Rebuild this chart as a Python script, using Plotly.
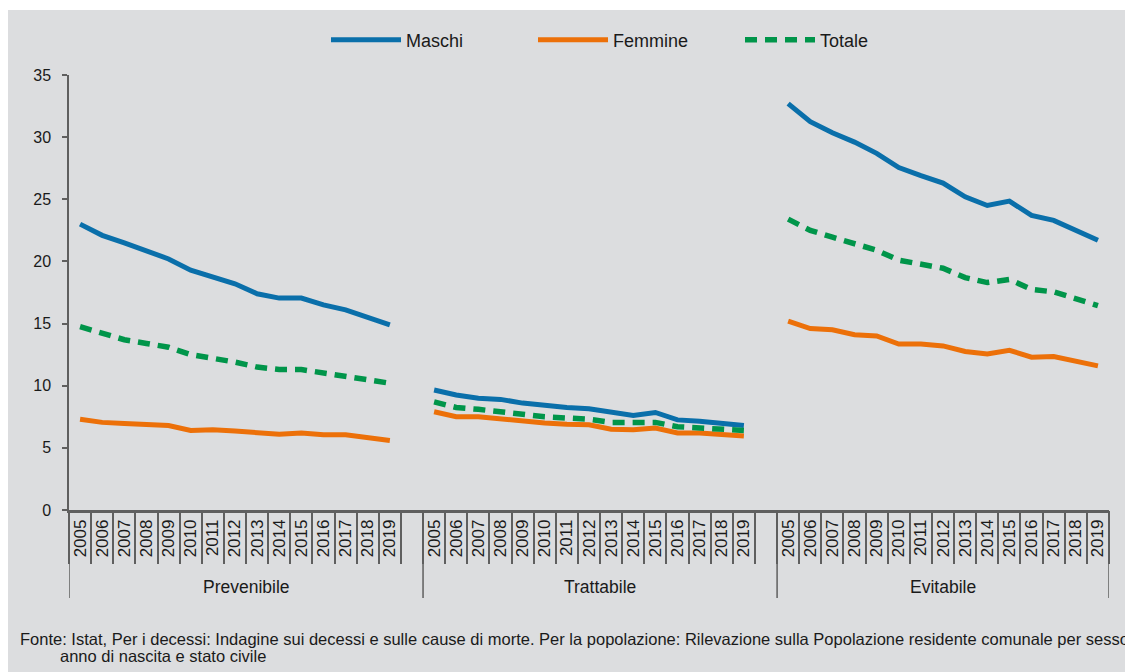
import plotly.graph_objects as go

groups = ["Prevenibile", "Trattabile", "Evitabile"]
years = [str(y) for y in range(2005, 2020)]

maschi_prevenibile = [23.0, 22.1, 21.5, 20.9, 20.2, 19.3, 18.8, 18.2, 17.4, 17.05, 17.05, 16.5, 16.1, 15.5, 14.9]
femmine_prevenibile = [7.3, 7.05, 6.95, 6.85, 6.8, 6.4, 6.45, 6.35, 6.25, 6.1, 6.2, 6.05, 6.05, 5.8, 5.6]
totale_prevenibile = [14.75, 14.2, 13.7, 13.4, 13.1, 12.5, 12.25, 11.9, 11.5, 11.3, 11.3, 11.0, 10.8, 10.5, 10.2]

maschi_trattabile = [9.65, 9.25, 9.0, 8.9, 8.6, 8.4, 8.25, 8.15, 7.9, 7.6, 7.85, 7.25, 7.15, 7.0, 6.8]
femmine_trattabile = [7.9, 7.5, 7.5, 7.3, 7.2, 7.0, 6.9, 6.85, 6.5, 6.45, 6.6, 6.2, 6.2, 6.1, 5.95]
totale_trattabile = [8.7, 8.25, 8.1, 7.95, 7.7, 7.5, 7.45, 7.3, 7.05, 7.0, 7.05, 6.7, 6.6, 6.55, 6.4]

maschi_evitabile = [32.7, 31.25, 30.35, 29.6, 28.7, 27.55, 26.9, 26.3, 25.2, 24.5, 24.85, 23.7, 23.3, 22.5, 21.7]
femmine_evitabile = [15.2, 14.6, 14.5, 14.1, 14.0, 13.35, 13.35, 13.2, 12.75, 12.55, 12.85, 12.3, 12.35, 11.95, 11.6]
totale_evitabile = [23.4, 22.5, 21.95, 21.4, 20.9, 20.1, 19.75, 19.45, 18.7, 18.3, 18.55, 17.75, 17.55, 17.0, 16.45]

series_names = ["Maschi", "Femmine", "Totale"]
series_colors = ["#0A6FAA", "#EC7009", "#00954A"]

source_line1 = ("Fonte: Istat, Per i decessi: Indagine sui decessi e sulle cause di morte. "
                "Per la popolazione: Rilevazione sulla Popolazione residente comunale per sesso,")
source_line2 = "anno di nascita e stato civile"

data = {
    "Maschi": [maschi_prevenibile, maschi_trattabile, maschi_evitabile],
    "Femmine": [femmine_prevenibile, femmine_trattabile, femmine_evitabile],
    "Totale": [totale_prevenibile, totale_trattabile, totale_evitabile],
}

# Build category axis: 15 years per group + one blank column after the first two groups
cats, labels, group_bounds = [], [], []
for gi, g in enumerate(groups):
    start = len(cats)
    for y in years:
        cats.append(f"{g} {y}")
        labels.append(y)
    if gi < len(groups) - 1:
        cats.append(f"{g} gap")
        labels.append("")
    group_bounds.append((start - 0.5, len(cats) - 0.5))

def full_series(name):
    out = []
    for gi, vals in enumerate(data[name]):
        out.extend(vals)
        if gi < len(groups) - 1:
            out.append(None)
    return out

REG = "Liberation Sans, Arial, sans-serif"
AXC = "#5f5f5f"
TXT = "#1a1a1a"

fig = go.Figure()
for name, col in zip(series_names, series_colors):
    line = dict(color=col, width=5)
    if name == "Totale":
        line = dict(color=col, width=5.5, dash="12px,8px")
    fig.add_trace(go.Scatter(x=cats, y=full_series(name), mode="lines", name=name,
                             line=line, connectgaps=False, hoverinfo="skip"))

# invisible trace carrying the boundary-tick axis
fig.add_trace(go.Scatter(x=cats, y=[None] * len(cats), xaxis="x2", mode="lines",
                         showlegend=False, hoverinfo="skip"))

OFF = 8  # page body margin
W, H = 1125, 664
ml, mt = 69 - OFF, 75 - OFF
pw, ph = 1040, 435
mr = W - ml - pw
mb = H - mt - ph

def px_x(p):
    return (p - OFF - ml) / pw

def px_y(p):
    return (H - mb - (p - OFF)) / ph

shapes = [
    dict(type="rect", xref="paper", yref="paper", x0=px_x(8), x1=px_x(1140),
         y0=px_y(680), y1=px_y(10), fillcolor="#DCDDDF", line=dict(width=0), layer="below"),
]
div_bottom = px_y(598)
xs = sorted(set([b for pair in group_bounds for b in pair]))
for xb in xs:
    shapes.append(dict(type="line", xref="x", yref="paper", x0=xb, x1=xb, y0=0, y1=div_bottom,
                       line=dict(color=AXC, width=1.5)))

annotations = []
for g, (a, b) in zip(groups, group_bounds):
    annotations.append(dict(x=(a + b) / 2, xref="x", y=px_y(587), yref="paper", text=g,
                            showarrow=False, xanchor="center", yanchor="middle",
                            font=dict(family=REG, size=17.5, color=TXT)))
annotations.append(dict(x=px_x(18), xref="paper", y=px_y(639), yref="paper", text=source_line1,
                        showarrow=False, xanchor="left", yanchor="middle",
                        font=dict(family=REG, size=16.5, color=TXT)))
annotations.append(dict(x=px_x(58), xref="paper", y=px_y(656), yref="paper", text=source_line2,
                        showarrow=False, xanchor="left", yanchor="middle",
                        font=dict(family=REG, size=16.5, color=TXT)))

fig.update_layout(
    width=W, height=H,
    margin=dict(l=ml, r=mr, t=mt, b=mb, pad=0),
    paper_bgcolor="white",
    plot_bgcolor="rgba(0,0,0,0)",
    shapes=shapes,
    annotations=annotations,
    showlegend=True,
    legend=dict(orientation="h", x=px_x(326), xanchor="left", y=px_y(40), yanchor="middle",
                font=dict(family=REG, size=18, color=TXT), bgcolor="rgba(0,0,0,0)",
                entrywidth=122, itemwidth=70),
    xaxis=dict(type="category", categoryorder="array", categoryarray=cats,
               range=[-0.5, len(cats) - 0.5], tickmode="array", tickvals=cats, ticktext=labels,
               tickangle=-90, ticks="", showline=True, linecolor=AXC, linewidth=2.5,
               showgrid=False, zeroline=False,
               tickfont=dict(family=REG, size=17, color=TXT)),
    xaxis2=dict(type="category", categoryorder="array", categoryarray=cats, overlaying="x",
                anchor="y", side="bottom", range=[-0.5, len(cats) - 0.5],
                tickson="boundaries", ticks="outside", ticklen=53, tickwidth=1.5, tickcolor=AXC,
                showticklabels=False, showline=False, showgrid=False, zeroline=False),
    yaxis=dict(range=[0, 35], dtick=5, tick0=0, showline=True, linecolor=AXC, linewidth=1.5,
               ticks="outside", ticklen=5, tickwidth=1.5, tickcolor=AXC, showgrid=False,
               zeroline=False, ticklabelstandoff=8,
               tickfont=dict(family=REG, size=16, color=TXT)),
)

fig.write_html("out.html")
